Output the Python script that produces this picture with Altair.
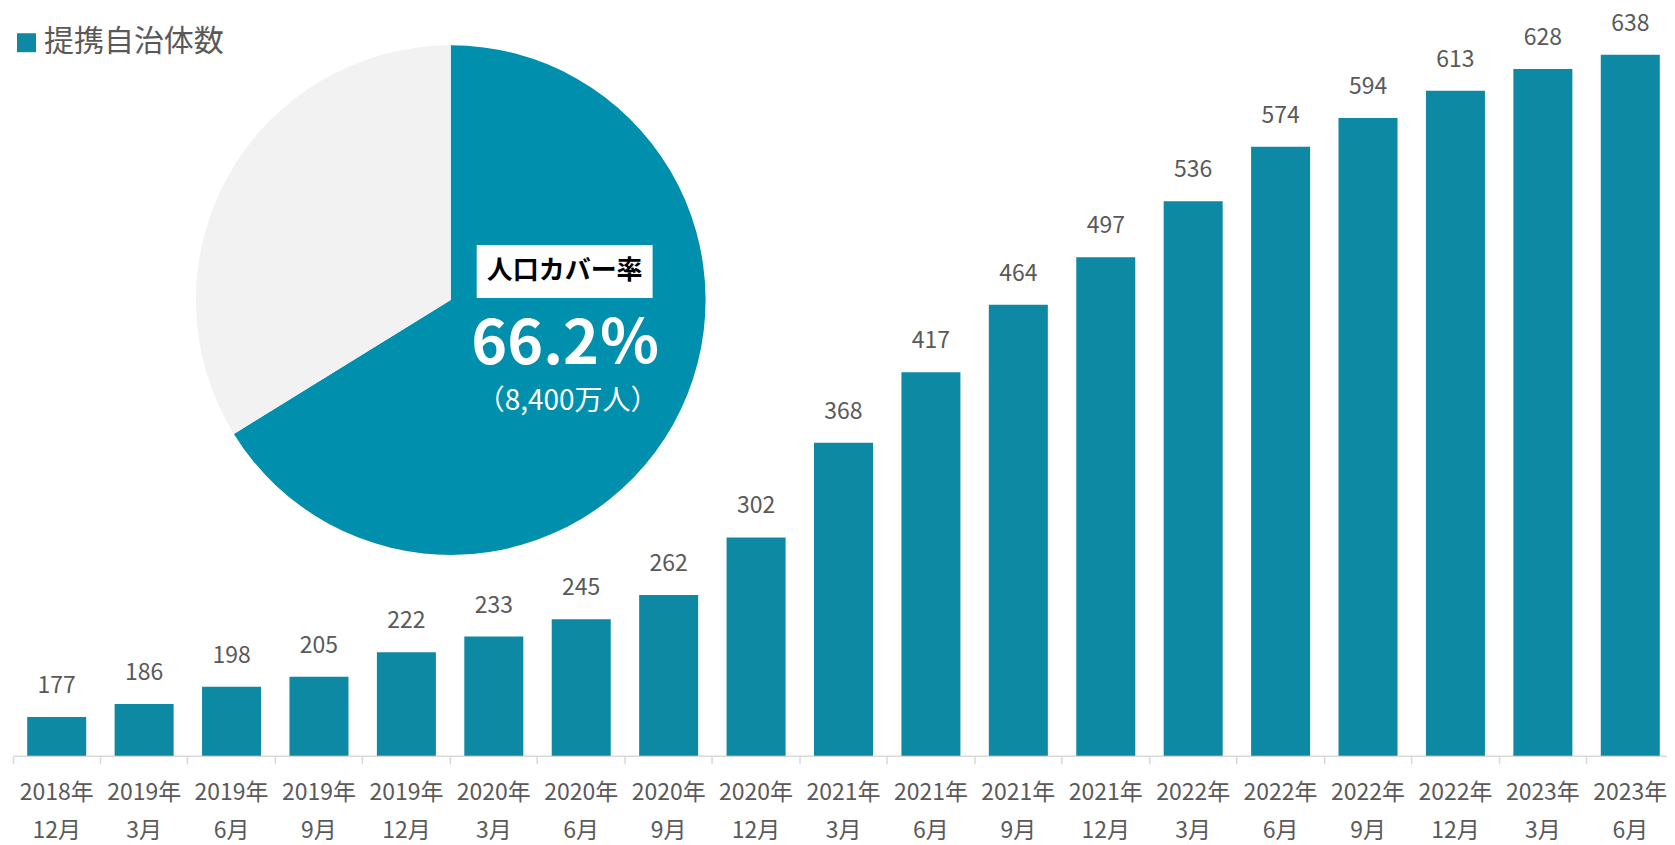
import altair as alt
import pandas as pd

periods = ["2018年|12月", "2019年|3月", "2019年|6月", "2019年|9月", "2019年|12月",
           "2020年|3月", "2020年|6月", "2020年|9月", "2020年|12月",
           "2021年|3月", "2021年|6月", "2021年|9月", "2021年|12月",
           "2022年|3月", "2022年|6月", "2022年|9月", "2022年|12月",
           "2023年|3月", "2023年|6月"]
counts = [177, 186, 198, 205, 222, 233, 245, 262, 302, 368, 417, 464, 497,
          536, 574, 594, 613, 628, 638]

pie_labels = ["カバー", "その他"]
pie_shares = [66.2, 33.8]
pie_colors = ["#008FAD", "#F2F2F2"]

legend_label = "提携自治体数"
cover_title = "人口カバー率"
cover_value = "66.2％"
cover_people = "（8,400万人）"

FONT = "Noto Sans CJK JP"
BAR = "#0E89A3"
GRAY = "#595959"
Y_MIN = 150

bars_df = pd.DataFrame({"period": periods, "count": counts})
pie_df = pd.DataFrame({"part": pie_labels, "share": pie_shares, "order": [0, 1]})
one = pd.DataFrame({"a": [0]})

x_enc = alt.X("period:N", sort=periods, title=None,
              scale=alt.Scale(range=[0, 1662], paddingInner=0, paddingOuter=0),
              axis=alt.Axis(labelExpr="split(datum.label, '|')", labelAngle=0,
                            labelFont=FONT, labelFontSize=23, labelColor=GRAY,
                            labelLineHeight=38, labelPadding=18, labelBaseline="top",
                            tickSize=8, tickColor="#D9D9D9", tickWidth=1.5,
                            domainColor="#D9D9D9", domainWidth=1.5,
                            bandPosition=0, grid=False))
y_enc = alt.Y("count:Q", title=None, axis=None,
              scale=alt.Scale(domain=[Y_MIN, 664.8], zero=False, nice=False))

bars = alt.Chart(bars_df).mark_bar(color=BAR, width=alt.RelativeBandSize(0.675)).encode(
    x=x_enc, y=y_enc, y2=alt.Y2(datum=Y_MIN))

labels = alt.Chart(bars_df).mark_text(font=FONT, fontSize=23, color=GRAY,
                                      baseline="alphabetic", dy=-24).encode(
    x=alt.X("period:N", sort=periods), y="count:Q", text="count:Q")

pie = alt.Chart(pie_df).mark_arc(radius=255).encode(
    theta=alt.Theta("share:Q", stack=True),
    order=alt.Order("order:Q"),
    color=alt.Color("part:N", scale=alt.Scale(domain=pie_labels, range=pie_colors), legend=None),
    x=alt.value(438), y=alt.value(284))

box = alt.Chart(one).mark_rect(color="white").encode(
    x=alt.value(464), x2=alt.value(640), y=alt.value(229), y2=alt.value(282))
t1 = alt.Chart(one).mark_text(text=cover_title, font=FONT, fontSize=26, fontWeight="bold",
                              color="black", baseline="middle").encode(
    x=alt.value(552), y=alt.value(255))
t2 = alt.Chart(one).mark_text(text=cover_value, font=FONT, fontSize=61, fontWeight="bold",
                              color="white", baseline="alphabetic").encode(
    x=alt.value(553), y=alt.value(348))
t3 = alt.Chart(one).mark_text(text=cover_people, font=FONT, fontSize=28,
                              color="white", baseline="alphabetic").encode(
    x=alt.value(555), y=alt.value(394))

leg_sq = alt.Chart(one).mark_rect(color=BAR).encode(
    x=alt.value(4), x2=alt.value(23), y=alt.value(17), y2=alt.value(36))
leg_t = alt.Chart(one).mark_text(text=legend_label, font=FONT, fontSize=30, color=GRAY,
                                 align="left", baseline="middle").encode(
    x=alt.value(31), y=alt.value(26))

chart = alt.layer(bars, labels, pie, box, t1, t2, t3, leg_sq, leg_t).properties(
    width=1655, height=740,
    autosize=alt.AutoSizeParams(type="none"),
    padding={"left": 5, "top": 8, "right": 0, "bottom": 90},
).configure_view(stroke=None).resolve_scale(color="independent")

chart.save("out.html", embed_options={"renderer": "svg", "actions": False})
